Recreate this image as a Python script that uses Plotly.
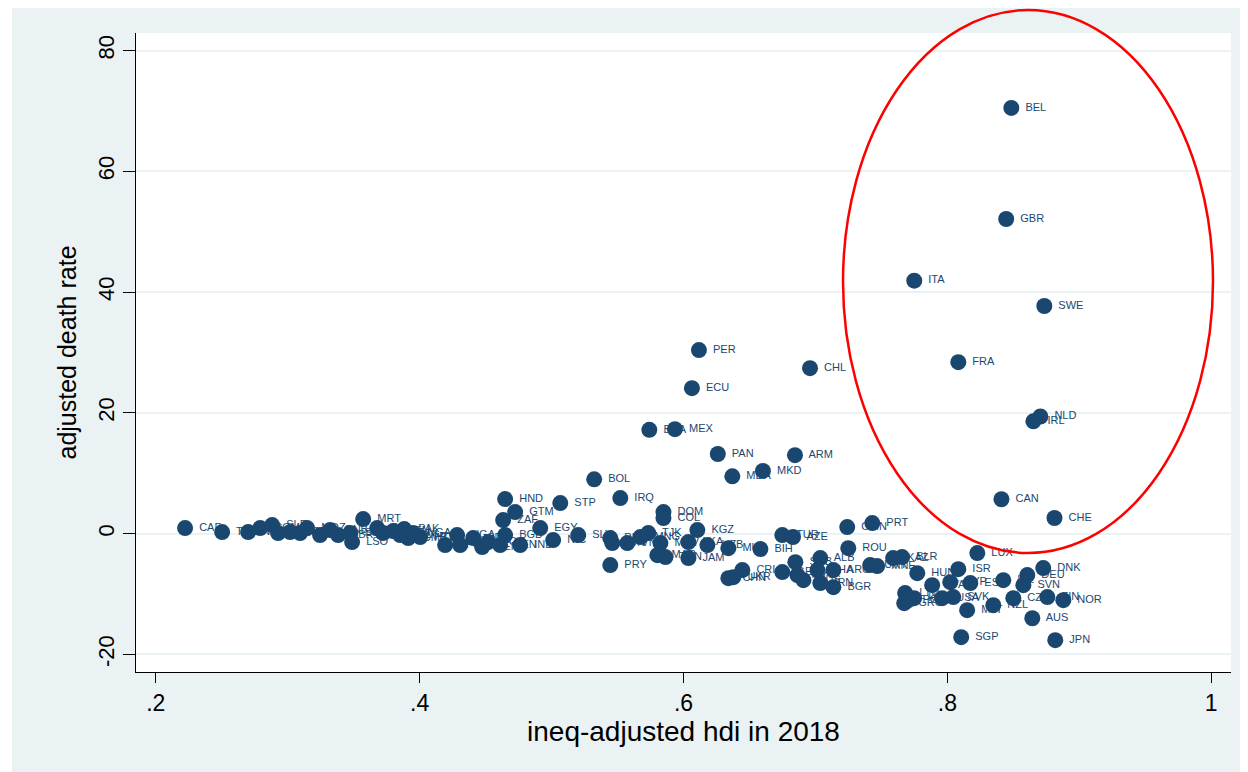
import plotly.graph_objects as go

countries = [
    "BEL", "GBR", "ITA", "SWE", "FRA", "NLD", "IRL", "CAN", "CHE",
    "PER", "CHL", "ECU", "BRA", "MEX", "PAN", "ARM", "MDA", "MKD", "BOL",
    "CAF", "TCD", "NER", "COM", "SLE", "MLI", "BFA", "GIN", "MOZ", "COD",
    "GNB", "LBR", "SSD", "LSO", "MRT", "BDI", "ETH", "SEN", "PAK", "MWI",
    "GMB", "NGA", "HTI", "AFG", "UGA", "CIV", "SDN", "YEM", "TGO", "KEN",
    "BGD", "IND", "ZAF", "GTM", "HND", "STP", "EGY", "NIC", "SLV", "PHL",
    "IDN", "VNM", "MNG", "TJK", "IRQ", "PRY", "DOM", "COL", "KGZ", "MDV",
    "MAR", "TUN", "LKA", "JAM", "UZB", "MUS", "BIH", "TUR", "AZE", "OMN",
    "PRT", "ROU", "CRI", "CHN", "UKR", "SRB", "ALB", "GEO", "MYS", "RUS",
    "THA", "ARG", "IRN", "BGR", "URY", "MNE", "KAZ", "BLR", "HUN", "ISR",
    "LUX", "DNK", "DEU", "ISL", "EST", "SVN", "CYP", "LVA", "LTU", "HRV",
    "GRC", "POL", "USA", "SVK", "MLT", "NZL", "CZE", "FIN", "NOR", "AUS",
    "SGP", "JPN",
]

ineq_hdi = [
    0.8485, 0.8446, 0.7749, 0.8735, 0.8083, 0.8705, 0.8652, 0.8410, 0.8812,
    0.6117, 0.6959, 0.6064, 0.5741, 0.5935, 0.6260, 0.6845, 0.6370, 0.6602, 0.5323,
    0.2222, 0.2503, 0.2700, 0.2791, 0.2882, 0.2927, 0.3018, 0.3094, 0.3147, 0.3245,
    0.3321, 0.3382, 0.3473, 0.3488, 0.3572, 0.3678, 0.3723, 0.3799, 0.3883, 0.3852,
    0.3913, 0.3951, 0.4004, 0.4193, 0.4284, 0.4307, 0.4406, 0.4474, 0.4519, 0.4610,
    0.4648, 0.4762, 0.4633, 0.4724, 0.4648, 0.5066, 0.4914, 0.5012, 0.5202, 0.5445,
    0.5460, 0.5574, 0.5673, 0.5733, 0.5521, 0.5445, 0.5848, 0.5848, 0.6105, 0.5825,
    0.5802, 0.5863, 0.6037, 0.6037, 0.6181, 0.6340, 0.6583, 0.6749, 0.6830, 0.7241,
    0.7431, 0.7249, 0.6446, 0.6340, 0.6378, 0.6848, 0.7037, 0.6749, 0.6863, 0.6909,
    0.7015, 0.7136, 0.7037, 0.7136, 0.7415, 0.7468, 0.7589, 0.7657, 0.7772, 0.8083,
    0.8227, 0.8727, 0.8606, 0.8424, 0.8174, 0.8576, 0.8022, 0.7885, 0.7680, 0.7748,
    0.7673, 0.7705, 0.7961, 0.8045, 0.8150, 0.8348, 0.8500, 0.8758, 0.8879, 0.8644,
    0.8105, 0.8818,
]

death_rate = [
    70.5, 52.1, 41.9, 37.7, 28.4, 19.4, 18.6, 5.7, 2.6,
    30.4, 27.4, 24.1, 17.2, 17.3, 13.2, 13.0, 9.5, 10.4, 9.0,
    0.93, 0.27, 0.27, 0.93, 1.42, 0.10, 0.27, 0.10, 0.93, -0.23,
    0.60, -0.23, 0.10, -1.39, 2.42, 0.93, 0.10, 0.43, 0.76, -0.23,
    -0.73, 0.10, -0.56, -1.89, -0.23, -1.89, -0.73, -2.22, -1.39, -1.89,
    -0.23, -1.89, 2.25, 3.58, 5.73, 5.07, 0.93, -1.06, -0.23, -0.73,
    -1.56, -1.56, -0.56, 0.10, 5.9, -5.2, 3.58, 2.58, 0.60, -1.56,
    -3.55, -3.88, -1.39, -4.04, -1.89, -2.39, -2.55, -0.23, -0.56, 1.09,
    1.76, -2.39, -6.03, -7.36, -7.20, -4.71, -4.04, -6.36, -6.86, -7.69,
    -6.03, -6.03, -8.18, -8.85, -5.20, -5.37, -4.04, -3.88, -6.53, -5.87,
    -3.21, -5.70, -6.86, -7.69, -8.18, -8.52, -8.02, -8.52, -9.84, -10.67,
    -11.5, -11.0, -10.67, -10.5, -12.66, -11.83, -10.67, -10.5, -11.0, -14.0,
    -17.13, -17.63,
]

x_tickvals = [0.2, 0.4, 0.6, 0.8, 1.0]
x_ticktext = [".2", ".4", ".6", ".8", "1"]
y_tickvals = [-20, 0, 20, 40, 60, 80]
y_ticktext = ["-20", "0", "20", "40", "60", "80"]

NAVY = "#1a476f"
BG = "#eaf2f3"
FONT = "Liberation Sans, Arial, sans-serif"

fig = go.Figure()
fig.add_trace(go.Scatter(
    x=ineq_hdi, y=death_rate, mode="markers+text",
    text=[" " + c for c in countries], textposition="middle right",
    textfont=dict(family=FONT, size=11, color=NAVY),
    marker=dict(size=16, color=NAVY, line=dict(width=0)),
    cliponaxis=False, showlegend=False,
))

# plot area in page pixels: left 136, right 1231, top 33, bottom 672
PW, PH = 1095.0, 639.0
def px(xp):
    return (xp - 136) / PW
def py(yp):
    return (672 - yp) / PH

shapes = [
    # thin white strip at the left of the Stata graph region
    dict(type="rect", xref="paper", yref="paper", x0=px(8), x1=px(12), y0=py(772), y1=py(8),
         fillcolor="white", line=dict(width=0), layer="below"),
    # red highlight ellipse
    dict(type="circle", xref="paper", yref="paper", x0=px(843), x1=px(1213), y0=py(553), y1=py(10),
         line=dict(color="red", width=2.5), fillcolor="rgba(0,0,0,0)", layer="above"),
]

fig.update_layout(
    width=1240, height=764,
    margin=dict(l=128, r=17, t=25, b=100),
    paper_bgcolor=BG, plot_bgcolor="white",
    font=dict(family=FONT, color="black"),
    shapes=shapes,
    xaxis=dict(
        range=[0.185, 1.015], tickvals=x_tickvals, ticktext=x_ticktext,
        showgrid=False, zeroline=False, showline=True, linecolor="black", linewidth=1.3,
        ticks="outside", ticklen=10, tickwidth=1.3, tickcolor="black",
        tickfont=dict(size=23, family=FONT, color="black"),
        title=dict(text="ineq-adjusted hdi in 2018", font=dict(size=28, family=FONT, color="black"), standoff=2),
    ),
    yaxis=dict(
        range=[-22.9, 82.9], tickvals=y_tickvals, ticktext=y_ticktext, tickangle=-90,
        showgrid=True, gridcolor=BG, gridwidth=2, zeroline=False,
        showline=True, linecolor="black", linewidth=1.3,
        ticks="outside", ticklen=12, tickwidth=1.3, tickcolor="black",
        tickfont=dict(size=22, family=FONT, color="black"),
        title=dict(text="adjusted death rate", font=dict(size=25, family=FONT, color="black"), standoff=10),
    ),
)

fig.write_html("out.html")
